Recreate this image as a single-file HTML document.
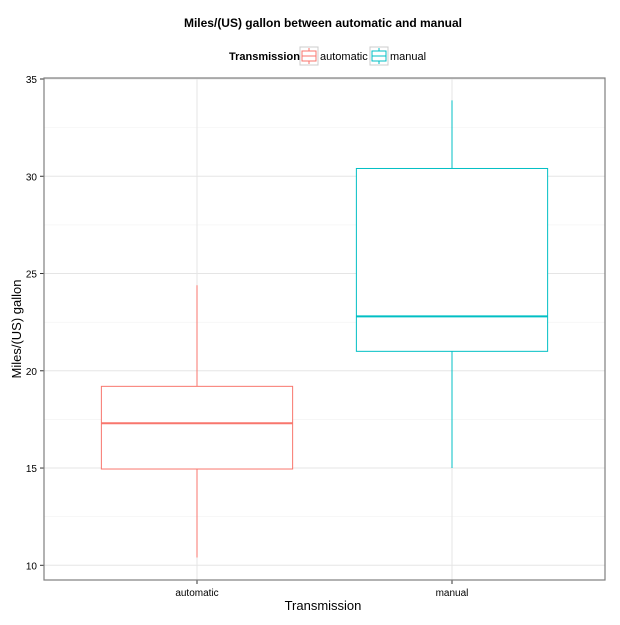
<!DOCTYPE html>
<html><head><meta charset="utf-8"><style>
body{margin:0;background:#fff;font-family:"Liberation Sans",Arial,sans-serif}
</style></head><body>
<svg id="c" width="620" height="620" xmlns="http://www.w3.org/2000/svg" font-family="Liberation Sans, Arial, sans-serif">
<rect width="620" height="620" fill="#fff"/>
<text x="323" y="27" text-anchor="middle" font-size="12" font-weight="bold">Miles/(US) gallon between automatic and manual</text>
<g>
<text x="229" y="60" font-size="11" font-weight="bold">Transmission</text>
<g>
<rect x="300" y="47" width="18" height="18" fill="#fff" stroke="#ccc"/>
<rect x="302" y="51" width="14" height="10" fill="none" stroke="#F8766D"/>
<line x1="302" y1="56" x2="316" y2="56" stroke="#F8766D"/>
<line x1="309" y1="48" x2="309" y2="51" stroke="#F8766D"/>
<line x1="309" y1="61" x2="309" y2="64" stroke="#F8766D"/>
<text x="320" y="60" font-size="11">automatic</text></g>
<g>
<rect x="370" y="47" width="18" height="18" fill="#fff" stroke="#ccc"/>
<rect x="372" y="51" width="14" height="10" fill="none" stroke="#00BFC4"/>
<line x1="372" y1="56" x2="386" y2="56" stroke="#00BFC4"/>
<line x1="379" y1="48" x2="379" y2="51" stroke="#00BFC4"/>
<line x1="379" y1="61" x2="379" y2="64" stroke="#00BFC4"/>
<text x="390" y="60" font-size="11">manual</text></g>
</g>
<g id="grid"></g><g id="marks"></g><g id="axes"></g>
<text x="323" y="610" text-anchor="middle" font-size="13">Transmission</text>
<text transform="translate(21,329) rotate(-90)" text-anchor="middle" font-size="13">Miles/(US) gallon</text>
</svg>
<script>
const categories=["automatic","manual"];
const colors=["#F8766D","#00BFC4"];
const mins=[10.4,15.0];
const q1s=[14.95,21.0];
const medians=[17.3,22.8];
const q3s=[19.2,30.4];
const maxs=[24.4,33.9];
const yTicks=[10,15,20,25,30,35];
const L=44,R=605,T=78,B=580;
const ns="http://www.w3.org/2000/svg";
function y(v){return 565.3+(v-10)*(79-565.3)/25;}
function x(i){return L+(i+0.6)/2.2*(R-L);}
const bw=0.75/2.2*(R-L);
function el(t,a,p){const e=document.createElementNS(ns,t);for(const k in a)e.setAttribute(k,a[k]);p.appendChild(e);return e;}
const g=document.getElementById('grid'),m=document.getElementById('marks'),ax=document.getElementById('axes');
for(let k=0;k<yTicks.length-1;k++){const l=el('line',{x1:L,x2:R,y1:y((yTicks[k]+yTicks[k+1])/2),y2:y((yTicks[k]+yTicks[k+1])/2),stroke:'#f2f2f2','stroke-width':0.6},g);

}
yTicks.forEach(t=>{const l=el('line',{x1:L,x2:R,y1:y(t),y2:y(t),stroke:'#e5e5e5','stroke-width':1},g);


const tk=el('line',{x1:L-4,x2:L,y1:y(t),y2:y(t),stroke:'#333'},ax);


const tx=el('text',{x:L-7,y:y(t)+4,'text-anchor':'end','font-size':10},ax);tx.textContent=t;

});
categories.forEach((c,i)=>{const l=el('line',{x1:x(i),x2:x(i),y1:T,y2:B,stroke:'#e5e5e5'},g);


const tk=el('line',{x1:x(i),x2:x(i),y1:B,y2:B+4,stroke:'#333'},ax);


const tx=el('text',{x:x(i),y:B+16,'text-anchor':'middle','font-size':10},ax);tx.textContent=c;


const bx=el('g',{},m);


el('line',{x1:x(i),x2:x(i),y1:y(maxs[i]),y2:y(q3s[i]),stroke:colors[i]},bx);
el('line',{x1:x(i),x2:x(i),y1:y(q1s[i]),y2:y(mins[i]),stroke:colors[i]},bx);
el('rect',{x:x(i)-bw/2,y:y(q3s[i]),width:bw,height:y(q1s[i])-y(q3s[i]),fill:'#fff',stroke:colors[i]},bx);
el('line',{x1:x(i)-bw/2,x2:x(i)+bw/2,y1:y(medians[i]),y2:y(medians[i]),stroke:colors[i],'stroke-width':2},bx);});
const f=el('rect',{x:L,y:T,width:R-L,height:B-T,fill:'none',stroke:'#7f7f7f','stroke-width':1.2},ax);


</script>
</body></html>
